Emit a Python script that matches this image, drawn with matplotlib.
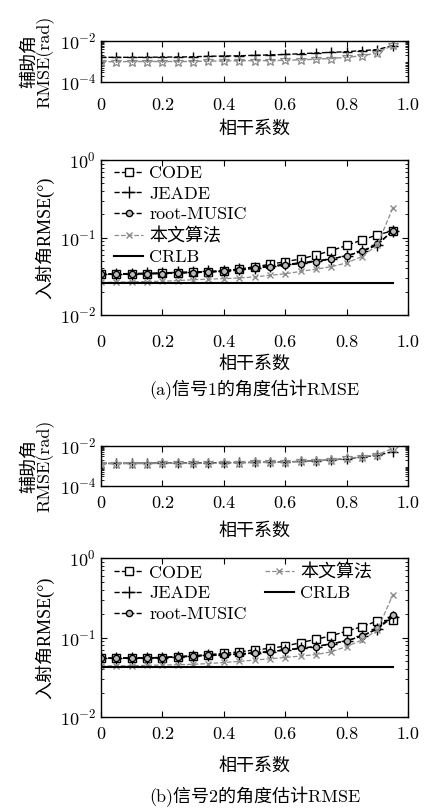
import numpy as np
import matplotlib
matplotlib.use('Agg')
from matplotlib import pyplot as plt
from matplotlib.ticker import LogLocator, NullFormatter

plt.rcParams['font.family'] = ['cmr10', 'Noto Sans CJK SC', 'DejaVu Sans']
plt.rcParams['mathtext.fontset'] = 'cm'
plt.rcParams['axes.formatter.use_mathtext'] = True
plt.rcParams['font.size'] = 13
plt.rcParams['axes.unicode_minus'] = False

# coherence coefficient
coh = [0, 0.05, 0.1, 0.15, 0.2, 0.25, 0.3, 0.35, 0.4, 0.45,
       0.5, 0.55, 0.6, 0.65, 0.7, 0.75, 0.8, 0.85, 0.9, 0.95]
xticks = [0, 0.2, 0.4, 0.6, 0.8, 1.0]
xticklabels = ['0', '0.2', '0.4', '0.6', '0.8', '1.0']

# (a) signal 1, auxiliary angle RMSE (rad)
a_aux_plus = [1.6e-3, 1.6e-3, 1.6e-3, 1.6e-3, 1.65e-3, 1.65e-3, 1.7e-3, 1.8e-3, 1.85e-3, 1.9e-3,
              2.0e-3, 2.1e-3, 2.2e-3, 2.4e-3, 2.6e-3, 2.8e-3, 3.0e-3, 3.4e-3, 3.8e-3, 6.0e-3]
a_aux_star = [9.8e-4, 9.8e-4, 1.0e-3, 1.0e-3, 1.0e-3, 1.0e-3, 1.0e-3, 1.05e-3, 1.05e-3, 1.1e-3,
              1.1e-3, 1.1e-3, 1.15e-3, 1.2e-3, 1.3e-3, 1.4e-3, 1.6e-3, 1.9e-3, 2.6e-3, 6.2e-3]

# (a) signal 1, incident angle RMSE (deg)
a_code = [0.0335, 0.0335, 0.0338, 0.034, 0.0345, 0.035, 0.0355, 0.036, 0.037, 0.039,
          0.042, 0.045, 0.0488, 0.0528, 0.0594, 0.0676, 0.079, 0.093, 0.108, 0.122]
a_jeade = [0.034, 0.034, 0.0343, 0.0346, 0.035, 0.0355, 0.036, 0.0365, 0.0375, 0.039,
           0.041, 0.043, 0.045, 0.047, 0.050, 0.053, 0.058, 0.066, 0.080, 0.122]
a_music = [0.0335, 0.0335, 0.0338, 0.034, 0.0343, 0.0348, 0.0352, 0.0358, 0.0365, 0.038,
           0.040, 0.042, 0.044, 0.046, 0.0488, 0.0528, 0.058, 0.067, 0.082, 0.122]
a_ours = [0.0263, 0.0265, 0.0268, 0.027, 0.0273, 0.0278, 0.0285, 0.029, 0.0295, 0.030,
          0.031, 0.0325, 0.034, 0.0365, 0.039, 0.042, 0.047, 0.0567, 0.080, 0.238]
a_crlb = [0.0261] * 20

# (b) signal 2, auxiliary angle RMSE (rad)
b_aux_plus = [1.36e-3, 1.36e-3, 1.38e-3, 1.38e-3, 1.4e-3, 1.4e-3, 1.42e-3, 1.45e-3, 1.47e-3, 1.5e-3,
              1.52e-3, 1.55e-3, 1.6e-3, 1.7e-3, 1.85e-3, 2.0e-3, 2.3e-3, 2.8e-3, 3.4e-3, 5.2e-3]
b_aux_star = [1.3e-3, 1.3e-3, 1.32e-3, 1.33e-3, 1.35e-3, 1.36e-3, 1.38e-3, 1.4e-3, 1.42e-3, 1.45e-3,
              1.5e-3, 1.52e-3, 1.58e-3, 1.68e-3, 1.82e-3, 2.0e-3, 2.4e-3, 2.9e-3, 3.6e-3, 7.6e-3]

# (b) signal 2, incident angle RMSE (deg)
b_code = [0.0547, 0.0548, 0.055, 0.0555, 0.056, 0.0575, 0.059, 0.061, 0.063, 0.066,
          0.0697, 0.073, 0.078, 0.086, 0.095, 0.105, 0.12, 0.137, 0.161, 0.166]
b_jeade = [0.055, 0.055, 0.0553, 0.0556, 0.056, 0.057, 0.0585, 0.06, 0.061, 0.062,
           0.064, 0.0665, 0.0697, 0.073, 0.077, 0.083, 0.091, 0.104, 0.128, 0.18]
b_music = [0.055, 0.055, 0.0552, 0.0555, 0.056, 0.057, 0.058, 0.0595, 0.0605, 0.062,
           0.064, 0.0665, 0.0697, 0.073, 0.077, 0.083, 0.091, 0.104, 0.13, 0.19]
b_ours = [0.044, 0.044, 0.0443, 0.0446, 0.045, 0.0455, 0.046, 0.047, 0.0485, 0.050,
          0.052, 0.054, 0.056, 0.0585, 0.061, 0.066, 0.077, 0.093, 0.124, 0.34]
b_crlb = [0.043] * 20

labels = ['CODE', 'JEADE', 'root-MUSIC', '本文算法', 'CRLB']
gray = '#8c8c8c'

W, H = 428, 809
fig = plt.figure(figsize=(W / 100, H / 100), dpi=100)


def box(top, bottom, left=101, right=408):
    return [left / W, 1 - bottom / H, (right - left) / W, (bottom - top) / H]


def style(ax, ylim, top, bottom, tickpad, xlabel_y):
    ax.set_yscale('log')
    ax.set_xlim(0, 1.0)
    ax.set_ylim(*ylim)
    ax.set_xticks(xticks)
    ax.set_xticklabels(xticklabels)
    ax.tick_params(which='both', direction='in', top=True, right=True)
    ax.tick_params(which='major', length=4, width=0.8)
    ax.tick_params(which='minor', length=2, width=0.6)
    ax.tick_params(axis='x', pad=tickpad)
    ax.yaxis.set_minor_locator(LogLocator(base=10, subs=np.arange(2, 10)))
    ax.yaxis.set_minor_formatter(NullFormatter())
    ax.set_xlabel('相干系数')
    ax.xaxis.label.set_va('center')
    ax.xaxis.set_label_coords(0.5, -(xlabel_y - bottom) / (bottom - top))
    for s in ax.spines.values():
        s.set_linewidth(1.0)


def aux_plot(ax, plus, star, top, bottom, tickpad, xlabel_y):
    ax.plot(coh, plus, color='black', ls='--', marker='+', ms=7, mew=1.0, lw=1.0)
    ax.plot(coh, star, color=gray, ls='--', marker='*', ms=7, mfc='none', mew=0.9, lw=1.0)
    style(ax, (1e-4, 1e-2), top, bottom, tickpad, xlabel_y)
    ax.set_yticks([1e-4, 1e-2])
    ax.set_ylabel('辅助角\nRMSE(rad)', linespacing=0.9, labelpad=4)


def main_plot(ax, code, jeade, music, ours, crlb, ncol, top, bottom, tickpad, xlabel_y):
    ax.plot(coh, code, color='black', ls='--', marker='s', ms=6, mfc='white', mew=1.0, lw=1.0, label=labels[0])
    ax.plot(coh, jeade, color='black', ls='--', marker='+', ms=8, mew=1.0, lw=1.0, label=labels[1])
    ax.plot(coh, music, color='black', ls='--', marker='o', ms=4.5, mfc='#bbbbbb', mew=1.0, lw=1.0, label=labels[2])
    ax.plot(coh, ours, color=gray, ls='--', marker='x', ms=5, mew=1.0, lw=0.9, label=labels[3])
    ax.plot(coh, crlb, color='black', ls='-', lw=1.5, label=labels[4])
    style(ax, (1e-2, 1e0), top, bottom, tickpad, xlabel_y)
    ax.set_yticks([1e-2, 1e-1, 1e0])
    ax.set_ylabel('入射角RMSE(°)', family=['Liberation Serif', 'Noto Sans CJK SC'], labelpad=4)
    ax.legend(loc='upper left', bbox_to_anchor=(0.025, 1.0), ncol=ncol, frameon=False, fontsize=13,
              handlelength=1.6, handletextpad=0.35, labelspacing=0.28,
              columnspacing=1.0, borderaxespad=0.1, borderpad=0.2)


ax1 = fig.add_axes(box(41, 82))
aux_plot(ax1, a_aux_plus, a_aux_star, 41, 82, 11, 128)

ax2 = fig.add_axes(box(160, 315))
main_plot(ax2, a_code, a_jeade, a_music, a_ours, a_crlb, 1, 160, 315, 14, 363)
fig.text(254.5 / W, 1 - 390 / H, '(a)信号1的角度估计RMSE', ha='center', va='center', fontsize=13)

ax3 = fig.add_axes(box(446, 486))
aux_plot(ax3, b_aux_plus, b_aux_star, 446, 486, 7, 530)

ax4 = fig.add_axes(box(558, 717))
main_plot(ax4, b_code, b_jeade, b_music, b_ours, b_crlb, 2, 558, 717, 7, 765)
fig.text(254.5 / W, 1 - 797 / H, '(b)信号2的角度估计RMSE', ha='center', va='center', fontsize=13)

fig.savefig('out.png', dpi=100)
